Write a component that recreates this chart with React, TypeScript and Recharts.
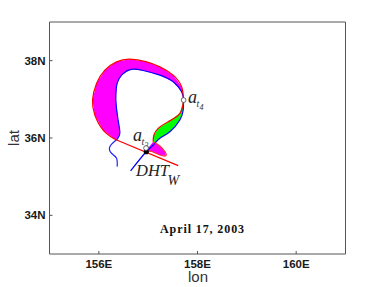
import React from "react";
import { ScatterChart, Scatter, XAxis, YAxis, Curve } from "recharts";

type P = { x: number; y: number };
const toPts = (a: number[][]): P[] => a.map(([x, y]) => ({ x, y }));

const lonTicks = [156, 158, 160];
const latTicks = [34, 36, 38];

const redArc = toPts([
  [157.718, 36.981], [157.678, 37.324], [157.507, 37.626], [157.237, 37.84], [156.968, 37.969],
  [156.629, 38.039], [156.359, 37.969], [156.122, 37.755], [155.953, 37.412], [155.872, 36.981],
  [155.919, 36.594], [156.087, 36.206], [156.325, 35.966],
]);
const redTail = toPts([[156.325, 35.966], [157.608, 35.285]]);
const blueArc = toPts([
  [157.718, 36.981], [157.678, 37.195], [157.507, 37.453], [157.237, 37.626], [156.899, 37.745],
  [156.65, 37.775], [156.47, 37.64], [156.371, 37.412], [156.345, 36.981], [156.391, 36.465],
  [156.426, 36.121], [156.371, 35.966],
]);
const blueTail = toPts([
  [156.371, 35.966], [156.223, 35.775], [156.258, 35.605], [156.359, 35.476], [156.371, 35.259],
]);
const blueBranch = toPts([
  [157.718, 36.981], [157.71, 36.723], [157.643, 36.465], [157.44, 36.163], [157.237, 35.992],
  [157.101, 35.819], [156.933, 35.605], [156.643, 35.148],
]);
const redBranch = toPts([
  [157.718, 36.981], [157.643, 36.637], [157.406, 36.421], [157.203, 36.25], [157.116, 36.077], [157.101, 35.905],
]);
const lobe = toPts([
  [157.101, 35.905], [157.237, 35.794], [157.339, 35.646], [157.359, 35.543], [157.237, 35.561],
  [157.075, 35.652], [156.953, 35.665],
]);
const openPoints = toPts([[157.718, 36.981], [156.957, 35.74]]);
const blackPoint = toPts([[156.963, 35.645]]);

const magentaLoop = [...redArc, ...[...blueArc].reverse()];
const greenLobe = [...redBranch, ...blueBranch.slice(0, 6).reverse()];

const none = () => <g />;
const fillLine = (color: string) => (props: any) => (
  <Curve points={props.points} type="linearClosed" fill={color} stroke="none" />
);
const smooth = (color: string, type = "natural") => (props: any) => (
  <Curve points={props.points} type={type as any} fill="none" stroke={color} strokeWidth={1.2} />
);

const FRAME = "#555555";
const tickStyle = { fontFamily: "Liberation Sans", fontWeight: 700, fontSize: 11.5, fill: "#1a1a1a" };
const serif = "Liberation Serif";

export default function App() {
  const axisLine = { stroke: FRAME, strokeWidth: 1 };
  const tickLine = { stroke: FRAME };
  return (
    <div style={{ position: "absolute", left: 0, top: 0, width: 382, height: 287 }}>
      <ScatterChart width={382} height={287} margin={{ left: 48.5, right: 35.5, top: 21, bottom: 32 }}>
        <XAxis xAxisId="b" type="number" dataKey="x" domain={[155, 161]} ticks={lonTicks} height={1}
          orientation="bottom" tickSize={-3} tickMargin={9} axisLine={axisLine} tickLine={tickLine}
          tick={tickStyle} tickFormatter={(v: number) => `${v}E`} interval={0} />
        <XAxis xAxisId="t" type="number" dataKey="x" domain={[155, 161]} ticks={lonTicks} height={1}
          orientation="top" tickSize={-3} axisLine={axisLine} tickLine={tickLine} tick={false} />
        <YAxis yAxisId="l" type="number" dataKey="y" domain={[33, 39]} ticks={latTicks} width={1}
          orientation="left" tickSize={-3} tickMargin={7} axisLine={axisLine} tickLine={tickLine}
          tick={tickStyle} tickFormatter={(v: number) => `${v}N`} interval={0} />
        <YAxis yAxisId="r" type="number" dataKey="y" domain={[33, 39]} ticks={latTicks} width={1}
          orientation="right" tickSize={-3} axisLine={axisLine} tickLine={tickLine} tick={false} />

        <Scatter xAxisId="b" yAxisId="l" data={magentaLoop} shape={none} line={fillLine("#ff00ff")} isAnimationActive={false} />
        <Scatter xAxisId="b" yAxisId="l" data={greenLobe} shape={none} line={fillLine("#00ff00")} isAnimationActive={false} />
        <Scatter xAxisId="b" yAxisId="l" data={lobe} shape={none} line={fillLine("#ff00ff")} isAnimationActive={false} />
        <Scatter xAxisId="b" yAxisId="l" data={blueArc} shape={none} line={smooth("#0000ff")} isAnimationActive={false} />
        <Scatter xAxisId="b" yAxisId="l" data={blueTail} shape={none} line={smooth("#2222ff")} isAnimationActive={false} />
        <Scatter xAxisId="b" yAxisId="l" data={blueBranch} shape={none} line={smooth("#0000ff")} isAnimationActive={false} />
        <Scatter xAxisId="b" yAxisId="l" data={redArc} shape={none} line={smooth("#ff0000")} isAnimationActive={false} />
        <Scatter xAxisId="b" yAxisId="l" data={redTail} shape={none} line={smooth("#ff0000", "linear")} isAnimationActive={false} />
        <Scatter xAxisId="b" yAxisId="l" data={redBranch} shape={none} line={smooth("#ff0000")} isAnimationActive={false} />
        <Scatter xAxisId="b" yAxisId="l" data={lobe} shape={none} line={smooth("#ff3030")} isAnimationActive={false} />
        <Scatter xAxisId="b" yAxisId="l" data={blackPoint} fill="#000000" shape={(p: any) => <circle cx={p.cx} cy={p.cy} r={2.6} fill="#000" />} isAnimationActive={false} />
        <Scatter xAxisId="b" yAxisId="l" data={openPoints} shape={(p: any) => <circle cx={p.cx} cy={p.cy} r={2.4} fill="#fff" stroke="#444" strokeWidth={0.8} />} isAnimationActive={false} />

        <text x={198} y={282} textAnchor="middle" fontFamily="Liberation Sans" fontSize={15} fill="#333">lon</text>
        <text x={19} y={138} textAnchor="middle" transform="rotate(-90 19 138)" fontFamily="Liberation Sans" fontSize={15} fill="#333">lat</text>
        <text x={202.5} y={233} textAnchor="middle" fontFamily={serif} fontWeight={700} fontSize={12} letterSpacing={0.9} fill="#111">April 17, 2003</text>
        <text x={188} y={103} fontFamily={serif} fontStyle="italic" fontSize={18} fill="#222">a</text>
        <text x={196.5} y={107} fontFamily={serif} fontStyle="italic" fontSize={10} fill="#333">t</text>
        <text x={199.5} y={110} fontFamily={serif} fontStyle="italic" fontSize={8} fill="#333">4</text>
        <text x={133} y={141} fontFamily={serif} fontStyle="italic" fontSize={18} fill="#222">a</text>
        <text x={141.5} y={145} fontFamily={serif} fontStyle="italic" fontSize={10} fill="#333">t</text>
        <text x={144.5} y={148} fontFamily={serif} fontStyle="italic" fontSize={8} fill="#333">3</text>
        <text x={136} y={176} fontFamily={serif} fontStyle="italic" fontSize={16.5} fill="#222">DHT</text>
        <text x={167.5} y={185} fontFamily={serif} fontStyle="italic" fontSize={14} fill="#222">W</text>
      </ScatterChart>
    </div>
  );
}
